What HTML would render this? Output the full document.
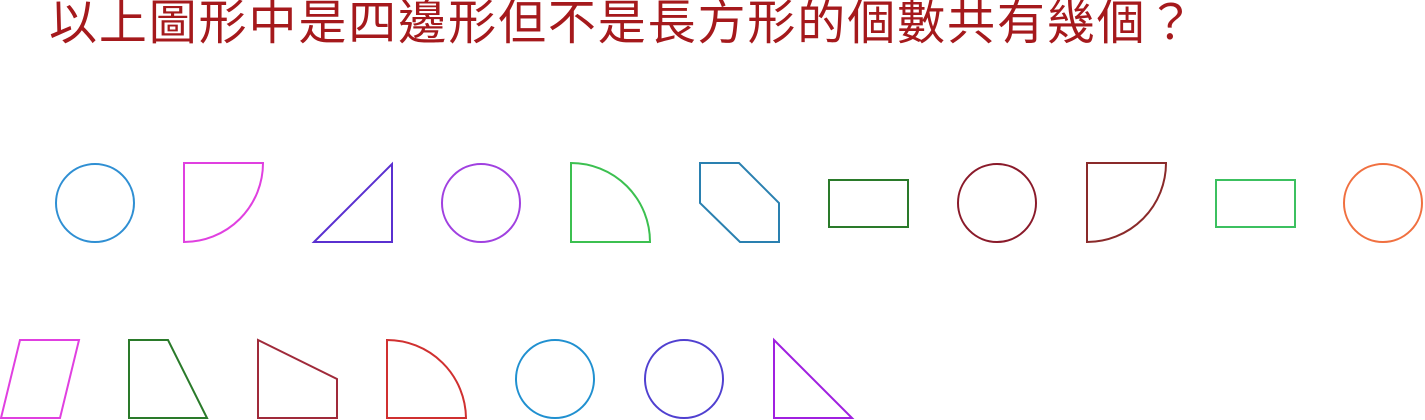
<!DOCTYPE html>
<html><head><meta charset="utf-8"><style>
html,body{margin:0;padding:0;background:#fff;width:1425px;height:420px;overflow:hidden}
#title{position:absolute;left:48px;top:-2px;font:48px "Liberation Sans","Noto Sans CJK TC",sans-serif;color:#a5191c;white-space:nowrap;line-height:52px;display:flex}
#title span{display:inline-block;width:49.9px;flex:none;text-align:center;overflow:visible}
svg{position:absolute;left:0;top:0}
</style></head><body>
<div id="title"><span>以</span><span>上</span><span>圖</span><span>形</span><span>中</span><span>是</span><span>四</span><span>邊</span><span>形</span><span>但</span><span>不</span><span>是</span><span>長</span><span>方</span><span>形</span><span>的</span><span>個</span><span>數</span><span>共</span><span>有</span><span>幾</span><span>個</span><span>？</span></div>
<svg width="1425" height="420" fill="none" stroke-width="2">
<circle cx="95" cy="203" r="39" stroke="#2f8fd3"/>
<path d="M184,163 L263,163 A79,79 0 0 1 184,242 Z" stroke="#e040e0"/>
<path d="M314,242 L392,164 L392,242 Z" stroke="#5a30d0"/>
<circle cx="481" cy="203" r="39" stroke="#a040e0"/>
<path d="M571,163 L571,242 L650,242 A79,79 0 0 0 571,163 Z" stroke="#3cc050"/>
<path d="M700,163 L739,163 L779,203 L779,242 L740,242 L700,203 Z" stroke="#2a80b0"/>
<rect x="829" y="180" width="79" height="47" stroke="#2a7a2a"/>
<circle cx="997" cy="203" r="39" stroke="#8a1a2a"/>
<path d="M1087,163 L1166,163 A79,79 0 0 1 1087,242 Z" stroke="#8a2a2a"/>
<rect x="1216" y="180" width="79" height="47" stroke="#3cc060"/>
<circle cx="1383" cy="203" r="39" stroke="#f07040"/>
<path d="M20,340 L79,340 L60,418 L1,418 Z" stroke="#e040e0"/>
<path d="M129,340 L168,340 L207,418 L129,418 Z" stroke="#2a7a2a"/>
<path d="M258,340 L337,379 L337,418 L258,418 Z" stroke="#a02a3a"/>
<path d="M387,340 A79,79 0 0 1 466,418 L387,418 Z" stroke="#d03030"/>
<circle cx="555" cy="379" r="39" stroke="#2090d0"/>
<circle cx="684" cy="379" r="39" stroke="#5040d0"/>
<path d="M774,340 L852,418 L774,418 Z" stroke="#a020e0"/>
</svg>
</body></html>
